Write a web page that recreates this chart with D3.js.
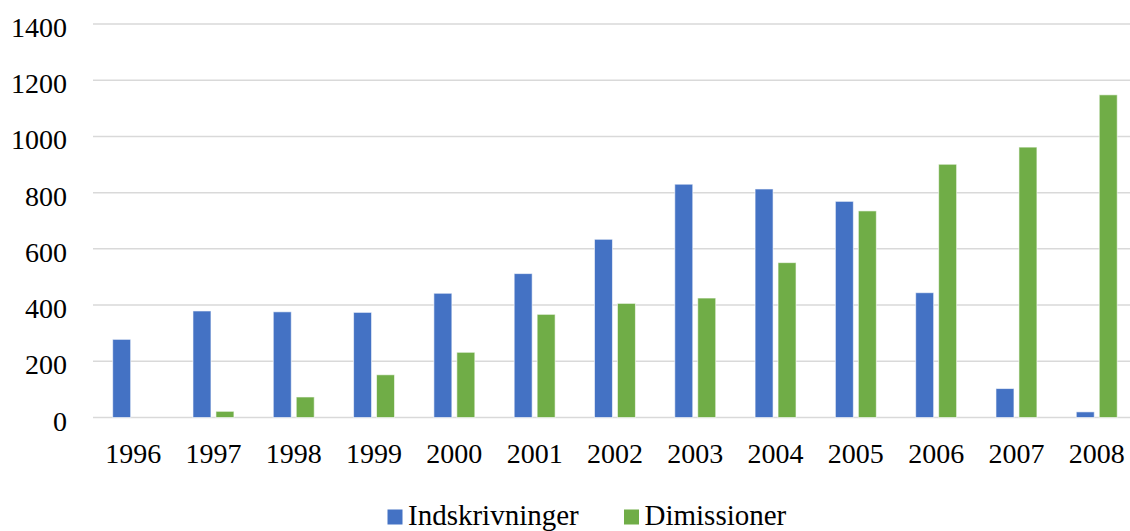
<!DOCTYPE html>
<html>
<head>
<meta charset="utf-8">
<script src="https://cdn.jsdelivr.net/npm/d3@7/dist/d3.min.js"></script>
<style>
  html, body { margin: 0; padding: 0; background: #fff; }
  svg { display: block; }
</style>
</head>
<body>
<svg id="chart" width="1130" height="531"></svg>
<script>
const categories = ["1996","1997","1998","1999","2000","2001","2002","2003","2004","2005","2006","2007","2008"];
const seriesNames = ["Indskrivninger", "Dimissioner"];
const indskrivninger = [278, 379, 376, 374, 442, 512, 634, 830, 813, 769, 444, 103, 20];
const dimissioner = [0, 22, 73, 152, 232, 367, 406, 425, 551, 735, 901, 962, 1148];
const yTicks = [0, 200, 400, 600, 800, 1000, 1200, 1400];
const colors = ["#4472C4", "#70AD47"];

const FONT = "'Liberation Serif'";
const svg = d3.select("#chart");
const W = 1130;
const x0 = d3.scaleBand().domain(categories).range([93, 93 + 13 * 80.3]).paddingInner(0.49).paddingOuter(0.245);
const x1 = d3.scaleBand().domain(seriesNames).range([0, x0.bandwidth()]).paddingInner(0.217).paddingOuter(0);
const y = d3.scaleLinear().domain([0, 1400]).range([417.5, 24]);

// gridlines
svg.append("g").selectAll("line").data(yTicks).join("line")
  .attr("x1", 93).attr("x2", W)
  .attr("y1", d => y(d)).attr("y2", d => y(d))
  .attr("stroke", "#d9d9d9").attr("stroke-width", 1.5);

// y axis labels
const yAxis = d3.axisLeft(y).tickValues(yTicks).tickSize(0).tickPadding(0).tickFormat(d3.format("d"));
const ya = svg.append("g").attr("transform", "translate(67,0)").call(yAxis);
ya.select(".domain").remove();
ya.selectAll("text").attr("dy", 12.5).attr("fill", "#000")
  .style("font-family", FONT).style("font-size", "28px");

// bars
const data = categories.map((c, i) => ({ cat: c, vals: [
  { s: seriesNames[0], v: indskrivninger[i], c: colors[0] },
  { s: seriesNames[1], v: dimissioner[i], c: colors[1] }
]}));
const groups = svg.append("g").selectAll("g").data(data).join("g")
  .attr("transform", d => `translate(${x0(d.cat)},0)`);
groups.selectAll("rect").data(d => d.vals.filter(v => v.v > 0)).join("rect")
  .attr("x", d => x1(d.s)).attr("width", x1.bandwidth())
  .attr("y", d => y(d.v)).attr("height", d => y(0) - y(d.v))
  .attr("fill", d => d.c).attr("stroke", "rgba(255,255,255,0.6)").attr("stroke-width", 1);

// x axis labels
const xAxis = d3.axisBottom(x0).tickSize(0).tickPadding(0);
const xa = svg.append("g").attr("transform", "translate(0,462.5)").call(xAxis);
xa.select(".domain").remove();
xa.selectAll("text").attr("dy", 0).attr("fill", "#000")
  .style("font-family", FONT).style("font-size", "28px");

// legend
const legendItems = [
  { name: seriesNames[0], color: colors[0], x: 387.5 },
  { name: seriesNames[1], color: colors[1], x: 624 }
];
const lg = svg.append("g").selectAll("g").data(legendItems).join("g")
  .attr("transform", d => `translate(${d.x},0)`);
lg.append("rect").attr("x", 0).attr("y", 509.5).attr("width", 15).attr("height", 15).attr("fill", d => d.color);
lg.append("text").attr("x", 20.5).attr("y", 525).attr("fill", "#000")
  .style("font-family", FONT).style("font-size", "29px").text(d => d.name);
</script>
</body>
</html>
